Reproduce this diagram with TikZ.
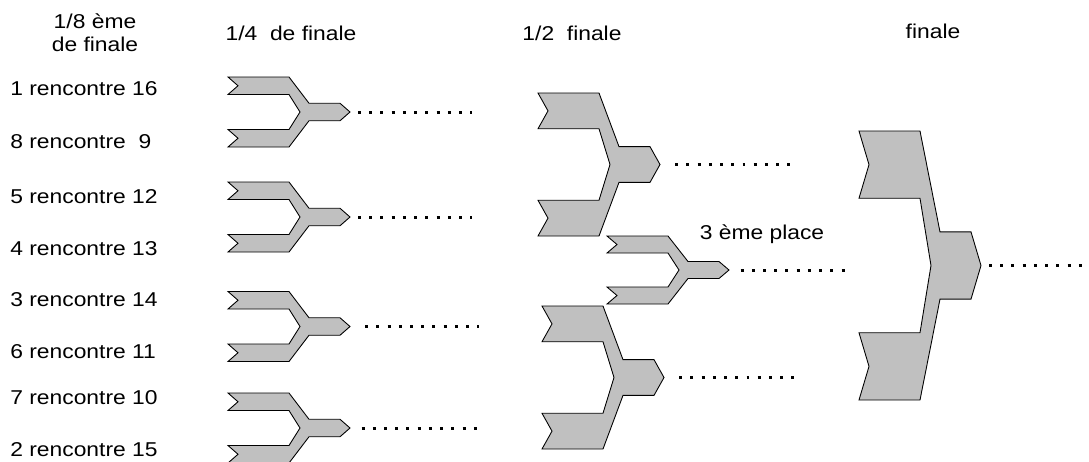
\documentclass[tikz,border=0pt]{standalone}
\usepackage{fontspec}
\setmainfont{Liberation Sans}[FakeStretch=1.14]
\usepackage{tikz}

% une fourche du tableau : nom de la sortie, x gauche, y centre, demi-hauteur
\newcommand{\fourche}[4]{%
  \draw[forme] (#2,#3-#4) -- (#2+61,#3-#4) -- (#2+81,#3-#4/4) -- (#2+112,#3-#4/4)
    -- (#2+122,#3) -- (#2+112,#3+#4/4) -- (#2+81,#3+#4/4) -- (#2+61,#3+#4)
    -- (#2,#3+#4) -- (#2+10,#3+3*#4/4) -- (#2,#3+#4/2) -- (#2+61,#3+#4/2)
    -- (#2+72,#3) -- (#2+61,#3-#4/2) -- (#2,#3-#4/2) -- (#2+10,#3-3*#4/4) -- cycle;
  \coordinate (#1) at (#2+130,#3);
}

\begin{document}
\begin{tikzpicture}[x=0.02cm, y=-0.02cm,
    forme/.style={draw=black, fill={rgb,255:red,192;green,192;blue,192}, line width=0.5pt, line join=miter},
    pointille/.style={line width=1.7pt, dash pattern=on 1.7pt off 4.7pt},
    texte/.style={inner sep=0pt, font=\fontsize{11.4}{13.1}\selectfont}]
    \useasboundingbox (0,0) rectangle (1089,461);

    % titres
    \node[texte, align=center] (t8) at (95,33) {1/8 ème\\de finale};
    \node[texte] (t4) at (291,33.5) {1/4~~de finale};
    \node[texte] (t2) at (572,33.5) {1/2~~finale};
    \node[texte] (tf) at (933,31) {finale};
    \node[texte] (t3) at (762,234) {3 ème place};

    % rencontres
    \node[texte, anchor=west] (r1) at (10,88.5) {1 rencontre 16};
    \node[texte, anchor=west] (r8) at (10,142) {8 rencontre~~9};
    \node[texte, anchor=west] (r5) at (10,196.5) {5 rencontre 12};
    \node[texte, anchor=west] (r4) at (10,249) {4 rencontre 13};
    \node[texte, anchor=west] (r3) at (10,299.5) {3 rencontre 14};
    \node[texte, anchor=west] (r6) at (10,352) {6 rencontre 11};
    \node[texte, anchor=west] (r7) at (10,398) {7 rencontre 10};
    \node[texte, anchor=west] (r2) at (10,449.5) {2 rencontre 15};

    % fourches
    \fourche{q1}{228}{112}{35}
    \fourche{q2}{228}{217}{35}
    \fourche{q3}{228}{326.5}{35}
    \fourche{q4}{228}{428}{35}
    \fourche{d1}{538}{164.5}{71.5}
    \fourche{d2}{542}{377.5}{71.5}
    \fourche{p3}{607}{270}{34}
    \fourche{f}{859}{265.5}{134.5}

    % vainqueurs
    \coordinate (q1fin) at (472,112);
    \coordinate (q2fin) at (472,217);
    \coordinate (q3fin) at (479,326.5);
    \coordinate (q4fin) at (477,428);
    \coordinate (d1fin) at (797,164.5);
    \coordinate (d2fin) at (797,377.5);
    \coordinate (p3fin) at (847,270);
    \coordinate (ffin) at (1089,265.5);

    \draw[pointille] (q1) -- (q1fin);
    \draw[pointille] (q2) -- (q2fin);
    \draw[pointille] ([xshift=4pt]q3) -- (q3fin);
    \draw[pointille] ([xshift=2pt]q4) -- (q4fin);
    \draw[pointille] ([xshift=4pt]d1) -- (d1fin);
    \draw[pointille] ([xshift=4pt]d2) -- (d2fin);
    \draw[pointille] ([xshift=2pt]p3) -- (p3fin);
    \draw[pointille] (f) -- (ffin);
\end{tikzpicture}
\end{document}
